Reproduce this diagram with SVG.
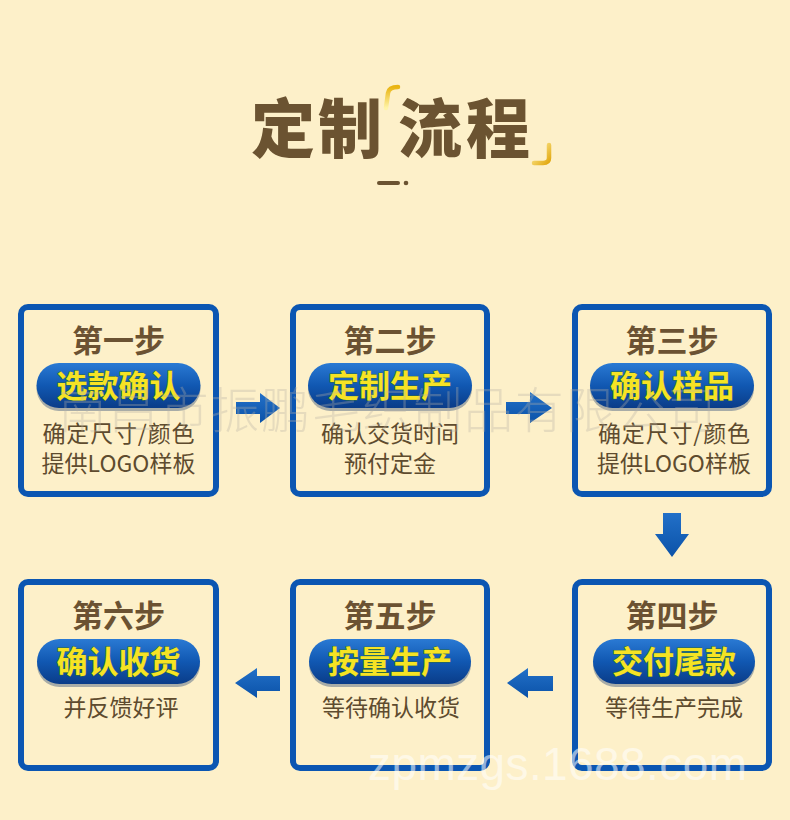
<svg xmlns="http://www.w3.org/2000/svg" width="790" height="820" viewBox="0 0 790 820">
  <defs>
    <linearGradient id="pillGrad" x1="0" y1="0" x2="0" y2="1">
      <stop offset="0" stop-color="#2a7ad4"/>
      <stop offset="0.5" stop-color="#1158b2"/>
      <stop offset="1" stop-color="#0a3c88"/>
    </linearGradient>
    <linearGradient id="arrowGrad" x1="0" y1="0" x2="0" y2="1">
      <stop offset="0" stop-color="#2270c8"/>
      <stop offset="1" stop-color="#0b52a8"/>
    </linearGradient>
    <linearGradient id="goldGrad" x1="0" y1="0" x2="0" y2="1">
      <stop offset="0" stop-color="#e9b412"/>
      <stop offset="1" stop-color="#fff4a8"/>
    </linearGradient>
    <linearGradient id="goldGrad2" x1="0" y1="0" x2="1" y2="1">
      <stop offset="0" stop-color="#fff0a0"/>
      <stop offset="1" stop-color="#e2a810"/>
    </linearGradient>
    <style>
      .bg { fill: #fdf0c9; }
      .box { fill: #fdf0c9; stroke: #0b56b2; stroke-width: 6; }
      .pill { fill: url(#pillGrad); }
      .pillShadow { fill: #082f66; opacity: 0.35; }
      .step { font-family: "Noto Sans CJK SC", "Noto Sans", sans-serif; font-weight: 700; font-size: 31px; fill: #6b5232; text-anchor: middle; }
      .pilltxt { font-family: "Noto Sans CJK SC", "Noto Sans", sans-serif; font-weight: 700; font-size: 31px; fill: #f6e324; stroke: #2f6d3a; stroke-width: 0.8; paint-order: stroke; text-anchor: middle; }
      .desc { font-family: "Noto Sans CJK SC", "Noto Sans", sans-serif; font-weight: 400; font-size: 23px; fill: #5e4b2e; text-anchor: middle; }
      .title { font-family: "Noto Sans CJK SC", "Noto Sans", sans-serif; font-weight: 900; font-size: 64px; fill: #6b5331; text-anchor: middle; }
      .arrow { fill: url(#arrowGrad); }
      .wm1 { font-family: "Noto Sans CJK SC", "Noto Sans", sans-serif; font-weight: 300; font-size: 49px; fill: #b8b2a6; opacity: 0.32; }
      .wm2 { font-family: "Liberation Sans", Arial, sans-serif; font-size: 46px; fill: #ffffff; opacity: 0.55; }
    </style>
  </defs>

  <rect class="bg" x="0" y="0" width="790" height="820"/>

  <g id="title">
    <text class="title" x="283" y="152">定</text>
    <text class="title" x="350" y="152">制</text>
    <text class="title" x="430" y="152">流</text>
    <text class="title" x="498" y="152">程</text>
    <path d="M 398 87 Q 389 87 388 93 L 386 108" fill="none" stroke="url(#goldGrad)" stroke-width="4.5" stroke-linecap="round"/>
    <path d="M 549 145 L 549 158 Q 549 163 543 163 L 534 163" fill="none" stroke="url(#goldGrad2)" stroke-width="4.5" stroke-linecap="round"/>
    <rect x="377" y="181" width="23" height="4" rx="2" fill="#6b5331"/>
    <circle cx="406" cy="183" r="2.3" fill="#6b5331"/>
  </g>

  <g id="step1">
    <rect class="box" x="21" y="307" width="195" height="187" rx="7"/>
    <text class="step" x="118.5" y="352">第一步</text>
    <rect class="pillShadow" x="36.5" y="366" width="164" height="45" rx="22.5"/>
    <rect class="pill" x="36.5" y="363" width="164" height="45" rx="22.5"/>
    <text class="pilltxt" x="118.5" y="397">选款确认</text>
    <text class="desc" x="118.5" y="442" textLength="152" lengthAdjust="spacing">确定尺寸/颜色</text>
    <text class="desc" x="118.5" y="472">提供LOGO样板</text>
  </g>

  <g id="step2">
    <rect class="box" x="293" y="307" width="194" height="187" rx="7"/>
    <text class="step" x="390" y="352">第二步</text>
    <rect class="pillShadow" x="308" y="366" width="164" height="45" rx="22.5"/>
    <rect class="pill" x="308" y="363" width="164" height="45" rx="22.5"/>
    <text class="pilltxt" x="390" y="397">定制生产</text>
    <text class="desc" x="390" y="442">确认交货时间</text>
    <text class="desc" x="390" y="472">预付定金</text>
  </g>

  <g id="step3">
    <rect class="box" x="575" y="307" width="194" height="187" rx="7"/>
    <text class="step" x="672" y="352">第三步</text>
    <rect class="pillShadow" x="590" y="366" width="164" height="45" rx="22.5"/>
    <rect class="pill" x="590" y="363" width="164" height="45" rx="22.5"/>
    <text class="pilltxt" x="672" y="397">确认样品</text>
    <text class="desc" x="674" y="442" textLength="152" lengthAdjust="spacing">确定尺寸/颜色</text>
    <text class="desc" x="674" y="472">提供LOGO样板</text>
  </g>

  <g id="step4">
    <rect class="box" x="575" y="582" width="194" height="186" rx="7"/>
    <text class="step" x="672" y="627">第四步</text>
    <rect class="pillShadow" x="593" y="642" width="162" height="45" rx="22.5"/>
    <rect class="pill" x="593" y="639" width="162" height="45" rx="22.5"/>
    <text class="pilltxt" x="674" y="673">交付尾款</text>
    <text class="desc" x="674" y="716">等待生产完成</text>
  </g>

  <g id="step5">
    <rect class="box" x="293" y="582" width="194" height="186" rx="7"/>
    <text class="step" x="390" y="627">第五步</text>
    <rect class="pillShadow" x="309" y="642" width="162" height="45" rx="22.5"/>
    <rect class="pill" x="309" y="639" width="162" height="45" rx="22.5"/>
    <text class="pilltxt" x="390" y="673">按量生产</text>
    <text class="desc" x="391" y="716">等待确认收货</text>
  </g>

  <g id="step6">
    <rect class="box" x="21" y="582" width="195" height="186" rx="7"/>
    <text class="step" x="118.5" y="627">第六步</text>
    <rect class="pillShadow" x="37" y="642" width="163" height="45" rx="22.5"/>
    <rect class="pill" x="37" y="639" width="163" height="45" rx="22.5"/>
    <text class="pilltxt" x="118.5" y="673">确认收货</text>
    <text class="desc" x="121" y="716">并反馈好评</text>
  </g>

  <g id="connectors">
    <polygon class="arrow" points="236,402 260,402 260,393 280,408 260,423 260,414 236,414"/>
    <polygon class="arrow" points="506,402 530,402 530,392 552,408 530,423 530,414 506,414"/>
    <polygon class="arrow" points="663,513 681,513 681,534 689,534 672,557 655,534 663,534"/>
    <polygon class="arrow" points="553,676 528,676 528,668 507,683 528,698 528,691 553,691"/>
    <polygon class="arrow" points="280,676 257,676 257,668 235,683 257,698 257,691 280,691"/>
  </g>

  <g id="watermark">
    <text class="wm1" x="58" y="428" textLength="658" lengthAdjust="spacing">南昌市振鹏毛织制品有限公司</text>
    <text class="wm2" x="368" y="780" textLength="379" lengthAdjust="spacing">zpmzgs.1688.com</text>
  </g>
</svg>
